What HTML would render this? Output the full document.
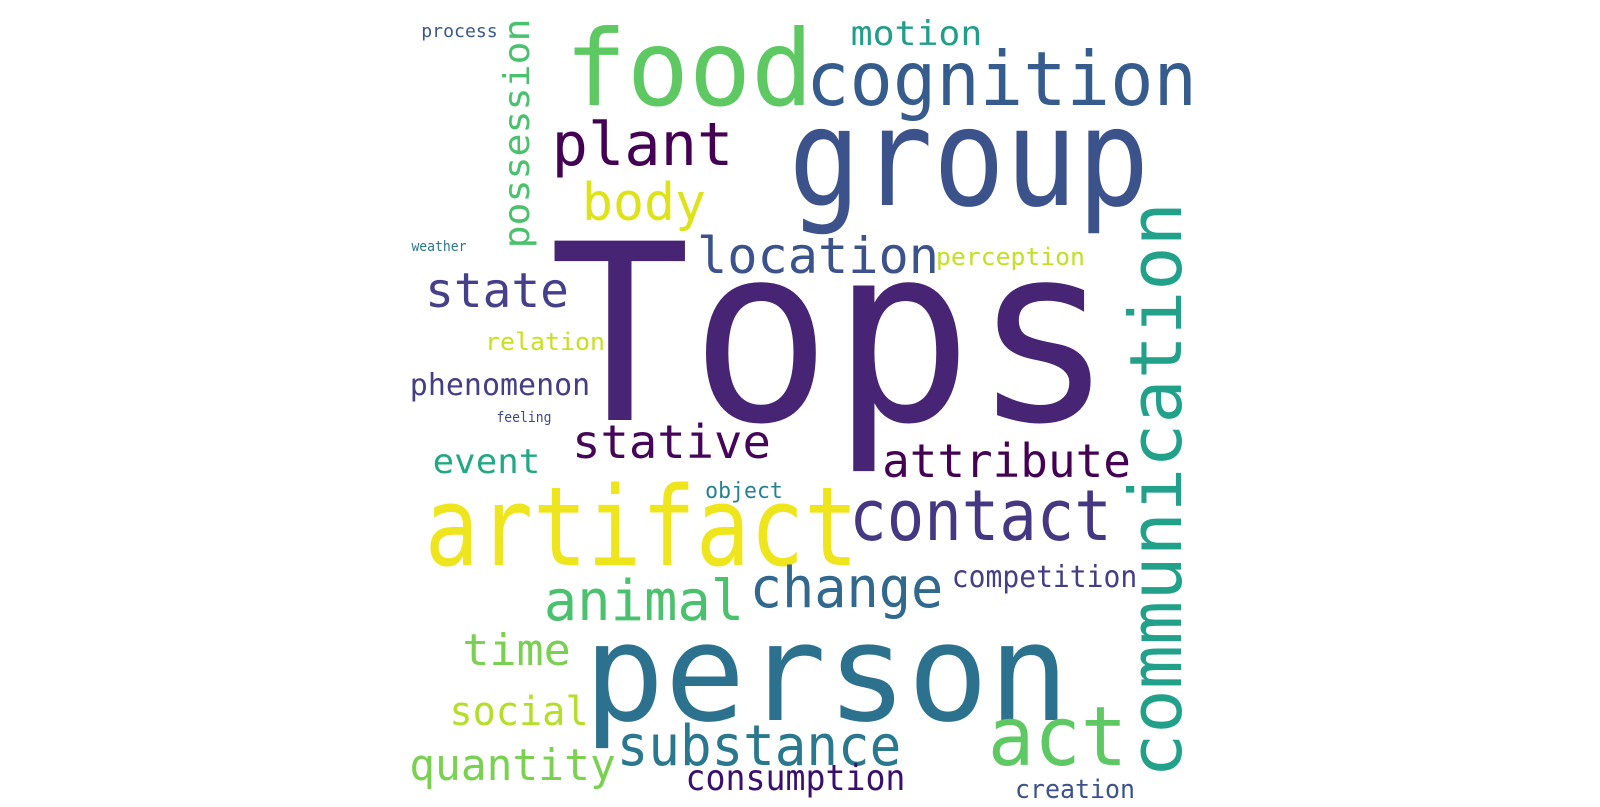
<!DOCTYPE html>
<html><head><meta charset="utf-8"><style>
html,body{margin:0;padding:0;background:#fff;width:1600px;height:807px;overflow:hidden}
svg text{font-family:"DejaVu Sans Mono","Liberation Mono",monospace}
</style></head><body>
<svg id="cloud" width="1600" height="807" viewBox="0 0 1600 807" xmlns="http://www.w3.org/2000/svg">
<rect width="1600" height="807" fill="#fff"/>
<g id="words" transform="translate(19,15)"></g>
</svg>
<script>
const words = ["Tops","group","food","cognition","plant","body","possession","process","motion","location","perception","weather","state","communication","relation","phenomenon","feeling","stative","attribute","event","object","artifact","contact","animal","change","competition","time","person","act","social","substance","quantity","consumption","creation"];
const weights = [246,136,105,75,60,52,36,18,34,50,24,14,48,72,24,30,14,46,46,34,22,110,70,56,56,30,44,135,82,40,56,44,36,26];
// layout (left, baseline, visible width, rotated, color)
const layout = [
[540,405,545,0,"#482475"],[775,190,350,0,"#3b528b"],[550,90,240,0,"#5ec962"],[790,90,385,0,"#365c8d"],
[535,150,177,0,"#440154"],[565,205,120,0,"#dde318"],[232,510,227,1,"#4ac16d"],[403,22,75,0,"#38598c"],
[833,30,129,0,"#1f9e89"],[680,258,238,0,"#3b528b"],[918,250,147,0,"#c2df23"],[393,236,54,0,"#2a788e"],
[408,292,140,0,"#46408a"],[760,1162,570,1,"#21a08a"],[467,335,118,0,"#c8e020"],[392,380,178,0,"#433e85"],
[478,407,54,0,"#3e4989"],[555,443,195,0,"#450559"],[865,462,245,0,"#440154"],[415,458,105,0,"#22a884"],
[687,483,76,0,"#26828e"],[410,550,425,0,"#efe51c"],[833,525,257,0,"#453781"],[527,605,196,0,"#4ac16d"],
[733,592,189,0,"#31688e"],[934,572,183,0,"#433e85"],[445,650,105,0,"#7ad151"],[570,705,475,0,"#2c728e"],
[972,750,133,0,"#5ec962"],[432,710,136,0,"#b5de2b"],[600,750,280,0,"#2a788e"],[392,765,203,0,"#7ad151"],
[668,775,217,0,"#3b0f70"],[997,783,118,0,"#3b528b"]];
const g = document.getElementById('words');
const NS = "http://www.w3.org/2000/svg";
words.forEach((w,i)=>{
  const fs = weights[i];
  const [a,b,wid,rot,col] = layout[i];
  const t = document.createElementNS(NS,'text');
  
  
  t.setAttribute('font-size', fs);
  t.setAttribute('fill', col);
  t.setAttribute('textLength', wid + 0.08*fs);
  t.setAttribute('lengthAdjust', 'spacingAndGlyphs');
  if(rot){
    t.setAttribute('x', -0.04*fs);
    t.setAttribute('y', 0);
    t.setAttribute('transform', `translate(${b},${a}) rotate(-90)`);
  } else {
    t.setAttribute('x', a - 0.04*fs);
    t.setAttribute('y', b);
  }
  t.textContent = w;
  g.appendChild(t);
});
</script>
</body></html>
